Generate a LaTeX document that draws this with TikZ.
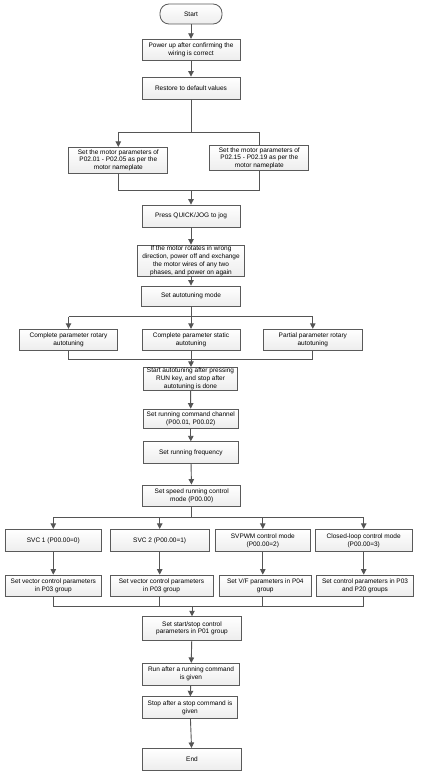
\documentclass[tikz,border=0pt]{standalone}
\usepackage{fontspec}
\setmainfont{Liberation Sans}
\usetikzlibrary{arrows.meta}
\definecolor{lncol}{HTML}{555555}
\definecolor{bdcol}{HTML}{5A5A5A}
\tikzset{
  ln/.style={draw=lncol, line width=0.9pt},
  arr/.style={ln, -{Triangle[length=5.5pt,width=5.5pt]}},
  bx/.style 2 args={draw=bdcol, line width=0.8pt, top color=white, bottom color=gray!14,
    minimum width=#1pt, minimum height=#2pt, inner xsep=0pt, inner ysep=0pt,
    align=center, font=\fontsize{6.5}{7.8}\selectfont},
}
\begin{document}
\begin{tikzpicture}[x=1pt,y=-1pt]
\useasboundingbox (0,0) rectangle (423,778);
\fill[white] (0,0) rectangle (423,778);
% nodes
\node[bx={62}{20}, rounded corners=9pt] (start) at (191,14) {Start};
\node[bx={98}{21}] (n1) at (191,49.7) {Power up after confirming the\\wiring is correct};
\node[bx={98}{22}] (n2) at (191,88) {Restore to default values};
\node[bx={99}{26}] (m1) at (118.3,160.3) {Set the motor parameters of\\P02.01 - P02.05 as per the\\motor nameplate};
\node[bx={99}{25}] (m2) at (259.3,158.3) {Set the motor parameters of\\P02.15 - P02.19 as per the\\motor nameplate};
\node[bx={98}{22}] (press) at (191,216) {Press QUICK/JOG to jog};
\node[bx={107}{31.7}] (ifm) at (191,260.8) {If the motor rotates in wrong\\direction, power off and exchange\\the motor wires of any two\\phases, and power on again};
\node[bx={99}{20}] (setauto) at (191,296) {Set autotuning mode};
\node[bx={98.6}{21}] (a1) at (68.5,339.7) {Complete parameter rotary\\autotuning};
\node[bx={98}{21}] (a2) at (191,339.7) {Complete parameter static\\autotuning};
\node[bx={99}{21}] (a3) at (312.8,339.7) {Partial parameter rotary\\autotuning};
\node[bx={94}{23.4}] (sa) at (190.5,379) {Start autotuning after pressing\\RUN key, and stop after\\autotuning is done};
\node[bx={95}{19.3}] (cmd) at (190.8,418.7) {Set running command channel\\(P00.01, P00.02)};
\node[bx={95}{21.6}] (freq) at (190.8,452.5) {Set running frequency};
\node[bx={98}{21.7}] (speed) at (191.7,495.8) {Set speed running control\\mode (P00.00)};
\node[bx={96.7}{22.4}] (s1) at (53.3,540.5) {SVC 1 (P00.00=0)};
\node[bx={99.3}{22.4}] (s2) at (159.7,540.5) {SVC 2 (P00.00=1)};
\node[bx={95.7}{22.4}] (s3) at (262.8,540.5) {SVPWM control mode\\(P00.00=2)};
\node[bx={97.3}{22.4}] (s4) at (363.7,540.5) {Closed-loop control mode\\(P00.00=3)};
\node[bx={96.7}{21}] (p1) at (53.3,585.5) {Set vector control parameters\\in P03 group};
\node[bx={103}{21}] (p2) at (161.5,585.5) {Set vector control parameters\\in P03 group};
\node[bx={92.7}{21}] (p3) at (265.3,585.5) {Set V/F parameters in P04\\group};
\node[bx={96.7}{21}] (p4) at (365,585.5) {Set control parameters in P03\\and P20 groups};
\node[bx={99.4}{23.3}] (ss) at (192,628.3) {Set start/stop control\\parameters in P01 group};
\node[bx={96.6}{21.7}] (run) at (191,674.2) {Run after a running command\\is given};
\node[bx={95}{21.6}] (stop) at (190,707.5) {Stop after a stop command is\\given};
\node[bx={99.4}{21.7}] (end) at (192,759.2) {End};
% junction levels
\coordinate (j1) at (0,132);
\coordinate (j2) at (0,190.7);
\coordinate (j3) at (0,316.7);
\coordinate (j4) at (0,359.3);
\coordinate (j5) at (0,517.3);
\coordinate (j6) at (0,606);
% connectors
\draw[arr] (start) -- (n1);
\draw[arr] (n1) -- (n2);
\draw[ln] (n2.south) -- (n2.south|-j1);
\draw[ln] (m1.north|-j1) -- (m2.north|-j1) -- (m2.north);
\draw[arr] (m1.north|-j1) -- (m1.north);
\draw[ln] (m1.south) -- (m1.south|-j2) -- (m2.south|-j2) -- (m2.south);
\draw[arr] (press.north|-j2) -- (press.north);
\draw[arr] (press) -- (ifm);
\draw[arr] (ifm) -- (setauto);
\draw[ln] (setauto.south) -- (setauto.south|-j3);
\draw[ln] (a1.north|-j3) -- (a3.north|-j3);
\draw[arr] (a1.north|-j3) -- (a1.north);
\draw[arr] (a2.north|-j3) -- (a2.north);
\draw[arr] (a3.north|-j3) -- (a3.north);
\draw[ln] (a1.south) -- (a1.south|-j4) -- (a3.south|-j4) -- (a3.south);
\draw[arr] (a2.south) -- (a2.south|-sa.north);
\draw[arr] (sa) -- (cmd);
\draw[arr] (cmd) -- (freq);
\draw[arr] (freq) -- (speed);
\draw[ln] (speed.south) -- (speed.south|-j5);
\draw[ln] (s1.north|-j5) -- (s4.north|-j5);
\foreach \s/\p in {s1/p1,s2/p2,s3/p3,s4/p4}{
  \draw[arr] (\s.north|-j5) -- (\s.north);
  \draw[arr] (\s.south) -- (\s.south|-\p.north);
}
\draw[ln] (s1.south|-p1.south) -- (s1.south|-j6) -- (s4.south|-j6) -- (s4.south|-p4.south);
\draw[ln] (s2.south|-p2.south) -- (s2.south|-j6);
\draw[ln] (s3.south|-p3.south) -- (s3.south|-j6);
\draw[arr] (ss.north|-j6) -- (ss.north);
\draw[arr] (ss) -- (run);
\draw[arr] (run) -- (stop);
\draw[arr] (stop) -- (end);
\end{tikzpicture}
\end{document}
